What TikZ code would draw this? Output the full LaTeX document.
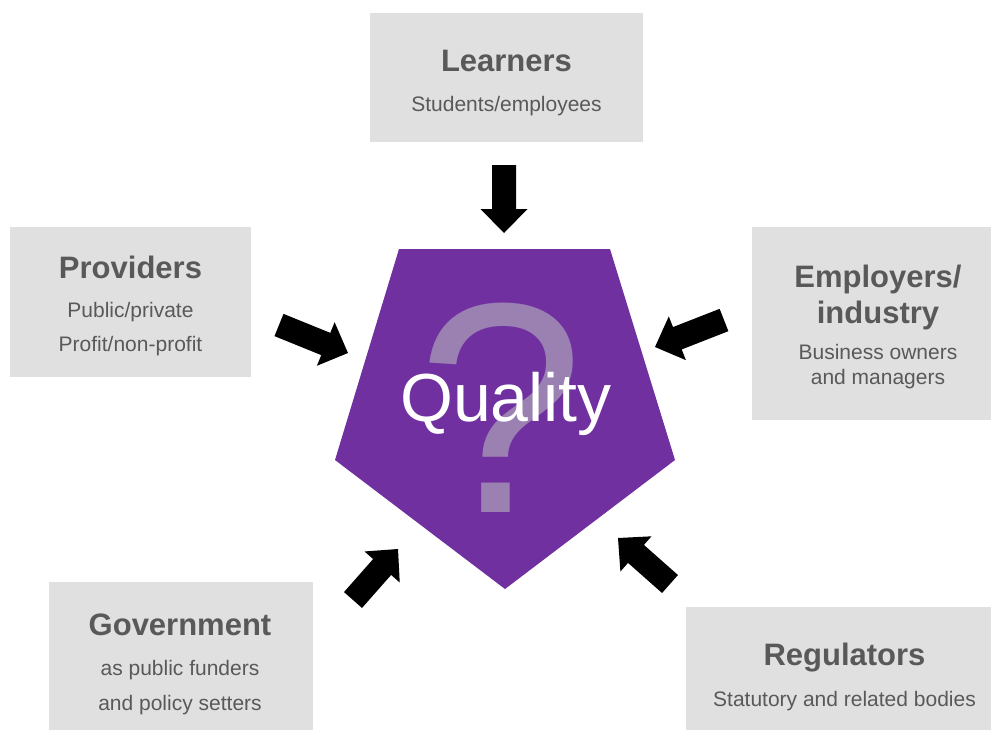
\documentclass[tikz,border=0pt]{standalone}
\usepackage{fontspec}
\setmainfont{Liberation Sans}
\usetikzlibrary{calc}
\definecolor{boxgray}{HTML}{E0E0E0}
\definecolor{txtgray}{HTML}{595959}
\definecolor{qpurple}{HTML}{7030A0}
\definecolor{qmarkcol}{RGB}{155,128,178}
\newcommand\fhead{\fontsize{31}{31}\selectfont\bfseries}
\newcommand\fsub{\fontsize{21}{21}\selectfont}
\newcommand\blkarrow[3]{%
  \coordinate (#3h) at ($(#2)!24pt!(#1)$);
  \fill[black] ($(#1)!12pt!90:(#2)$) -- ($(#3h)!12pt!-90:(#1)$) -- ($(#3h)!23.5pt!-90:(#1)$)
    -- (#2) -- ($(#3h)!23.5pt!90:(#1)$) -- ($(#3h)!12pt!90:(#1)$) -- ($(#1)!12pt!-90:(#2)$) -- cycle;}
\tikzset{
  grbox/.style={fill=boxgray, draw=none, inner sep=0pt, outer sep=0pt},
  headtxt/.style={anchor=base, text=txtgray, font=\fhead, inner sep=0pt},
  subtxt/.style={anchor=base, text=txtgray, font=\fsub, inner sep=0pt}
}
\begin{document}
\begin{tikzpicture}[x=1pt, y=-1pt]
\useasboundingbox (0,0) rectangle (991,729);
\clip (0,0) rectangle (991,729);
% boxes
\node[grbox, minimum width=273pt, minimum height=129pt] (learners) at (506.5,77.5) {};
\node[grbox, minimum width=241pt, minimum height=150pt] (providers) at (130.5,302) {};
\node[grbox, minimum width=252pt, minimum height=193pt] (employers) at (878,323.5) {};
\node[grbox, minimum width=264pt, minimum height=150pt] (government) at (181,657) {};
\node[grbox, minimum width=317pt, minimum height=125pt] (regulators) at (844.5,669.5) {};
% texts
\node[headtxt] (t1) at (506.5,71) {Learners};
\node[subtxt] (t1s) at (506.5,111) {Students/employees};
\node[headtxt] (t2) at (130.5,278) {Providers};
\node[subtxt] (t2a) at (130.5,317) {Public/private};
\node[subtxt] (t2b) at (130.5,351) {Profit/non-profit};
\node[headtxt] (t3a) at (878,287) {Employers/};
\node[headtxt] (t3b) at (878,323) {industry};
\node[subtxt] (t3c) at (878,359) {Business owners};
\node[subtxt] (t3d) at (878,384) {and managers};
\node[headtxt] (t4) at (180,635) {Government};
\node[subtxt] (t4a) at (180,675) {as public funders};
\node[subtxt] (t4b) at (180,710) {and policy setters};
\node[headtxt] (t5) at (844.5,665) {Regulators};
\node[subtxt] (t5a) at (844.5,706) {Statutory and related bodies};
% pentagon
\coordinate (p1) at (399,249);
\coordinate (p2) at (610,249);
\coordinate (p3) at (675,460);
\coordinate (p4) at (505,589);
\coordinate (p5) at (335,460);
\fill[qpurple] (p1) -- (p2) -- (p3) -- (p4) -- (p5) -- cycle;
\node[anchor=base, text=qmarkcol, font=\fontsize{300}{300}\selectfont, inner sep=0pt] (qm) at (501,512) {?};
\node[anchor=base, text=white, font=\fontsize{68}{68}\selectfont, inner sep=0pt] (quality) at (506,421) {Quality};
% arrows
\coordinate (aT1) at (504,165); \coordinate (aP1) at (504,233);
\coordinate (aT2) at (279,325); \coordinate (aP2) at (348,353);
\coordinate (aT3) at (724,320); \coordinate (aP3) at (655,347);
\coordinate (aT4) at (353,600); \coordinate (aP4) at (398,549);
\coordinate (aT5) at (670,584); \coordinate (aP5) at (618,538);
\blkarrow{aT1}{aP1}{a1}
\blkarrow{aT2}{aP2}{a2}
\blkarrow{aT3}{aP3}{a3}
\blkarrow{aT4}{aP4}{a4}
\blkarrow{aT5}{aP5}{a5}
\end{tikzpicture}
\end{document}
